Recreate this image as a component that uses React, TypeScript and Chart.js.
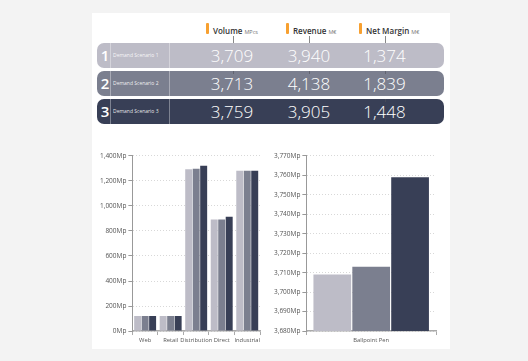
import React, { useEffect, useRef } from "react";
import { Chart, registerables } from "chart.js";
Chart.register(...registerables);

const scenarios = ["Demand Scenario 1", "Demand Scenario 2", "Demand Scenario 3"];
const volume = [3709, 3713, 3759];
const revenue = [3940, 4138, 3905];
const netMargin = [1374, 1839, 1448];
const channels = ["Web", "Retail", "Distribution", "Direct", "Industrial"];
const channelS1 = [121, 121, 1293, 892, 1282];
const channelS2 = [121, 121, 1297, 892, 1282];
const channelS3 = [121, 121, 1322, 913, 1282];
const products = ["Ballpoint Pen"];
const leftTicks = { min: 0, max: 1400, step: 200 };
const rightTicks = { min: 3680, max: 3770, step: 10 };

const colors = ["#bdbcc7", "#7b7f8f", "#383f56"];
const FONT = "'Open Sans', sans-serif";

const fmt = (v: number) => v.toLocaleString("en-US");

function scaleOpts(t: { min: number; max: number; step: number }) {
  return {
    x: {
      grid: { display: true, drawOnChartArea: false, drawTicks: true, tickLength: 4, color: "#aaa", offset: true },
      border: { display: true, color: "#aaa", width: 1.5 },
      ticks: { font: { family: FONT, size: 5.8 }, color: "#555", padding: 2, maxRotation: 0, minRotation: 0, autoSkip: false },
    },
    y: {
      min: t.min,
      max: t.max,
      grid: { color: "#d8d8d8", tickLength: 4, tickColor: "#999", drawTicks: true },
      border: { display: true, color: "#999", width: 1, dash: [1, 2] },
      ticks: {
        stepSize: t.step,
        font: { family: FONT, size: 6.5 },
        color: "#555",
        padding: 2,
        callback: (v: any) => fmt(Number(v)) + "Mp",
      },
    },
  };
}

function ChartBox(props: { left: number; top: number; w: number; h: number; labels: string[]; data: number[][]; ticks: any; cat: number; bar: number }) {
  const ref = useRef<HTMLCanvasElement>(null);
  useEffect(() => {
    const chart = new Chart(ref.current!, {
      type: "bar",
      data: {
        labels: props.labels,
        datasets: props.data.map((d, i) => ({
          label: scenarios[i],
          data: d,
          backgroundColor: colors[i],
          categoryPercentage: props.cat,
          barPercentage: props.bar,
        })),
      },
      options: {
        animation: false,
        responsive: false,
        maintainAspectRatio: false,
        layout: { padding: { top: 4, right: 4, left: 0, bottom: 0 } },
        plugins: { legend: { display: false }, tooltip: { enabled: false } },
        scales: scaleOpts(props.ticks) as any,
      },
    });
    return () => chart.destroy();
  }, []);
  return (
    <div style={{ position: "absolute", left: props.left, top: props.top, width: props.w, height: props.h }}>
      <canvas ref={ref} width={props.w} height={props.h} style={{ width: props.w, height: props.h, display: "block" }} />
    </div>
  );
}

const headers = [
  { name: "Volume", unit: "MPcs", bar: 206, line: 233 },
  { name: "Revenue", unit: "M€", bar: 286, line: 309 },
  { name: "Net Margin", unit: "M€", bar: 359, line: 384.5 },
];
const valueCenters = [232, 309, 384.5];

export default function App() {
  const rowTop = 43;
  const rowH = 25;
  const rowGap = 3;
  return (
    <div style={{ position: "absolute", left: 0, top: 0, width: 528, height: 361, background: "#f3f3f3", fontFamily: FONT, overflow: "hidden" }}>
      <div style={{ position: "absolute", left: 92, top: 13, width: 358, height: 336, background: "#fff" }} />
      {headers.map((h, i) => (
        <React.Fragment key={i}>
          <div style={{ position: "absolute", left: h.bar, top: 23, width: 3, height: 11, background: "#f7a030", borderRadius: 1 }} />
          <div style={{ position: "absolute", left: h.bar + 7, top: 21, height: 14, lineHeight: "14px", whiteSpace: "nowrap", color: "#333" }}>
            <span style={{ fontSize: 8, fontWeight: 600 }}>{h.name}</span>
            <span style={{ fontSize: 5.5, color: "#777", marginLeft: 2 }}>{h.unit}</span>
          </div>
          <div style={{ position: "absolute", left: h.line, top: 36, width: 1, height: 8, background: "#888" }} />
        </React.Fragment>
      ))}
      {scenarios.map((s, r) => {
        const top = rowTop + r * (rowH + rowGap);
        const vals = [volume[r], revenue[r], netMargin[r]];
        return (
          <div key={r} style={{ position: "absolute", left: 97, top, width: 347, height: rowH, background: colors[r], borderRadius: 7, color: "#fff" }}>
            <div style={{ position: "absolute", left: 3, top: 0, width: 10, textAlign: "center", fontSize: 15, fontWeight: 600, lineHeight: rowH + "px" }}>{r + 1}</div>
            <div style={{ position: "absolute", left: 13, top: 0, width: 1, height: rowH, background: "rgba(255,255,255,0.35)" }} />
            <div style={{ position: "absolute", left: 16, top: 0, fontSize: 5, lineHeight: rowH + "px", whiteSpace: "nowrap", color: "rgba(255,255,255,0.9)" }}>{s}</div>
            <div style={{ position: "absolute", left: 72, top: 0, width: 1, height: rowH, background: "rgba(255,255,255,0.35)" }} />
            {vals.map((v, j) => (
              <div key={j} style={{ position: "absolute", left: valueCenters[j] - 97 - 40, top: 0, width: 80, textAlign: "center", fontSize: 17, fontWeight: 300, lineHeight: rowH + "px" }}>{fmt(v)}</div>
            ))}
            {r > 0 && valueCenters.map((c, j) => (
              <div key={"t" + j} style={{ position: "absolute", left: headers[j].line - 97, top: 0, width: 1, height: 3, background: "rgba(80,80,90,0.6)" }} />
            ))}
          </div>
        );
      })}
      <ChartBox left={98} top={150} w={166} h={196} labels={channels} data={[channelS1, channelS2, channelS3]} ticks={leftTicks} cat={0.88} bar={0.93} />
      <ChartBox left={272} top={150} w={168} h={196} labels={products} data={[[volume[0]], [volume[1]], [volume[2]]]} ticks={rightTicks} cat={0.9} bar={0.97} />
    </div>
  );
}
